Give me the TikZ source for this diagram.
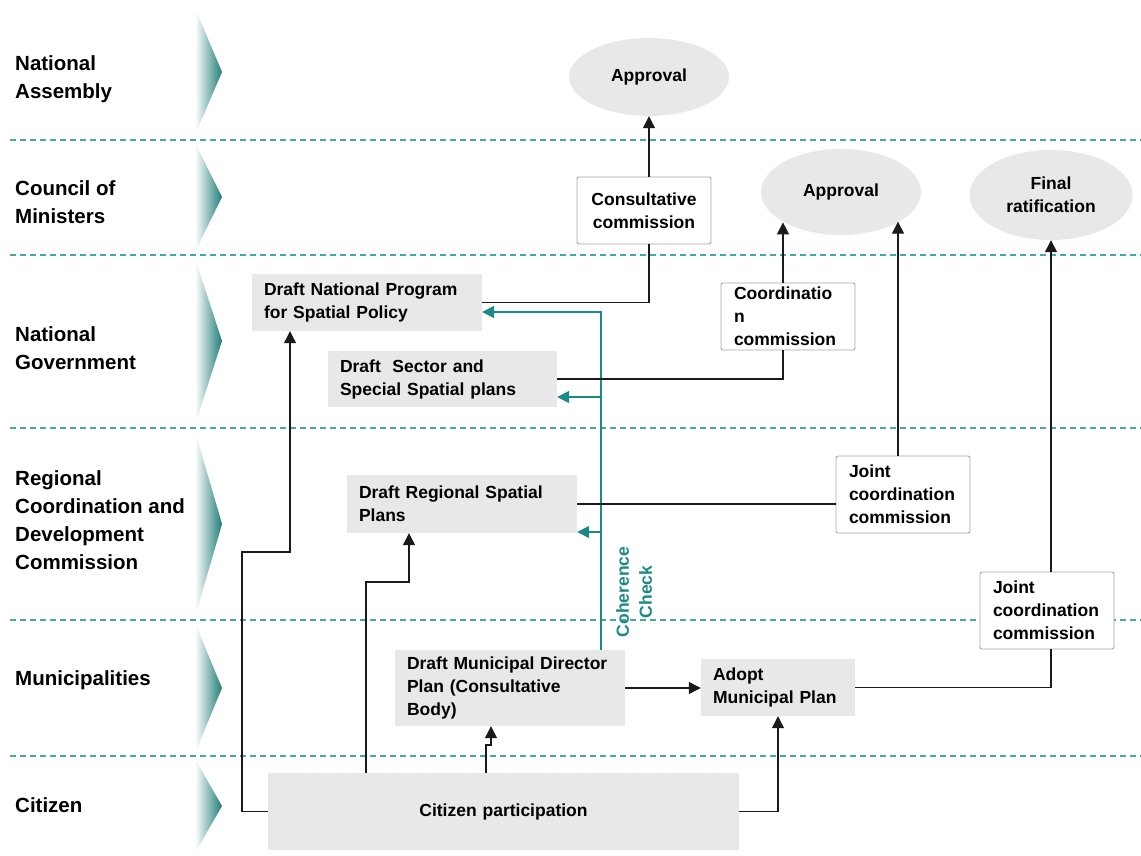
\documentclass[tikz,border=0pt]{standalone}
\usepackage{fontspec}
\setmainfont{Liberation Sans}
\usetikzlibrary{arrows.meta,shapes.geometric,calc}
\definecolor{boxgray}{HTML}{E8E8E8}
\definecolor{dashteal}{HTML}{45A8A8}
\definecolor{tealc}{HTML}{1A8A85}
\definecolor{chev}{HTML}{1F7D78}
\definecolor{linec}{HTML}{1A1A1A}
\definecolor{bordergray}{HTML}{A6A6A6}
\newcommand{\boxfont}{\fontsize{17.5}{23}\selectfont\bfseries}
\newcommand{\lanefont}{\fontsize{20.5}{27.8}\selectfont\bfseries}
\begin{document}
\begin{tikzpicture}[x=1pt,y=-1pt,
  lane/.style={anchor=west, align=left, font=\lanefont, inner sep=0pt},
  gbox/.style={fill=boxgray, inner xsep=12pt, inner ysep=2pt, align=left, font=\boxfont},
  cbox/.style={fill=white, draw=bordergray, line width=0.9pt, rounded corners=2pt, inner xsep=13pt, inner ysep=2pt, align=left, font=\boxfont},
  oval/.style={ellipse, fill=boxgray, inner sep=0pt, align=center, font=\boxfont},
  conn/.style={draw=linec, line width=1.2pt},
  arr/.style={conn, -{Triangle[length=12pt,width=12pt]}},
  tarr/.style={draw=tealc, line width=1.4pt, -{Triangle[length=12pt,width=12pt]}},
  sep/.style={draw=dashteal, line width=1.5pt, dash pattern=on 6pt off 4pt},
  chevron/.style={left color=white, right color=chev, draw=none}]

\useasboundingbox (0,0) rectangle (1141,856);

% lane separators
\foreach \yy in {140,255,428,620,756} {\draw[sep] (10,\yy) -- (1141,\yy);}

% chevrons
\shade[chevron] (195,8) -- (222,72) -- (195,135) -- cycle;
\shade[chevron] (195,143) -- (222,197) -- (195,252) -- cycle;
\shade[chevron] (195,258) -- (222,341) -- (195,425) -- cycle;
\shade[chevron] (195,431) -- (222,524) -- (195,617) -- cycle;
\shade[chevron] (195,623) -- (222,688) -- (195,753) -- cycle;
\shade[chevron] (195,759) -- (222,806) -- (195,853) -- cycle;

% lane labels
\node[lane] (l1) at (15,79) {National\\Assembly};
\node[lane] (l2) at (15,202) {Council of\\Ministers};
\node[lane] (l3) at (15,348) {National\\Government};
\node[lane] (l4) at (15,520) {Regional\\Coordination and\\Development\\Commission};
\node[lane] (l5) at (15,680) {Municipalities};
\node[lane] (l6) at (15,805) {Citizen};

% ovals
\node[oval, minimum width=160pt, minimum height=78pt] (ap1) at (649,77) {Approval};
\node[oval, minimum width=160pt, minimum height=86pt] (ap2) at (841,192) {Approval};
\node[oval, minimum width=163pt, minimum height=90pt] (fr) at (1051,195) {Final\\ratification};

% commission boxes
\node[cbox, align=center, text width=108pt, minimum height=67pt] (cons) at (644,210.5) {Consultative\\commission};
\node[cbox, text width=108pt, minimum height=67pt] (coord) at (788,316.5) {Coordinatio\\n\\commission};
\node[cbox, text width=108pt, minimum height=77pt] (jc1) at (903,494.5) {Joint\\coordination\\commission};
\node[cbox, text width=108pt, minimum height=77pt] (jc2) at (1047,610.5) {Joint\\coordination\\commission};

% gray boxes
\node[gbox, text width=206pt, minimum height=57pt] (dnp) at (367,302.5) {Draft National Program\\for Spatial Policy};
\node[gbox, text width=205pt, minimum height=56pt] (dsp) at (442.5,379) {Draft\ \ Sector and\\Special Spatial plans};
\node[gbox, text width=206pt, minimum height=58pt] (drs) at (462,504) {Draft Regional Spatial\\Plans};
\node[gbox, text width=206pt, minimum height=76pt] (dmp) at (510,688) {Draft Municipal Director\\Plan (Consultative\\Body)};
\node[gbox, text width=130pt, minimum height=57pt] (adopt) at (778,687.5) {Adopt\\Municipal Plan};
\node[gbox, align=center, text width=447pt, minimum height=77pt] (cit) at (503.5,811.5) {Citizen participation};

% coherence check
\node[font=\boxfont, text=tealc, rotate=90, align=center, inner sep=0pt] (coh) at (634,592) {Coherence\\Check};
\coordinate (ch) at (601,312);
\coordinate (t1) at ([yshift=-9.5pt]dnp.east);
\coordinate (t2) at ([yshift=-18pt]dsp.east);
\coordinate (t3) at ([yshift=-28pt]drs.east);
\draw[tarr] (dmp.north -| ch) |- (t1);
\draw[tarr] (t2 -| ch) -- (t2);
\draw[tarr] (t3 -| ch) -- (t3);

% black connectors
\draw[conn] (dnp.east) -| (ap1.south |- cons.south);
\draw[arr] (ap1.south |- cons.north) -- (ap1.south);
\coordinate (c1) at ([xshift=-5pt]coord.north);
\draw[conn] (dsp.east) -| (c1 |- coord.south);
\draw[arr] (c1) -- (c1 |- ap2.-152.7);
\draw[conn] (drs.east) -- (drs.east -| jc1.west);
\coordinate (c2) at ([xshift=-5pt]jc1.north);
\draw[arr] (c2) -- (c2 |- ap2.-27.8);
\draw[arr] (fr.south |- jc2.north) -- (fr.south);
\draw[conn] (adopt.east) -| (fr.south |- jc2.south);
\draw[arr] (dmp.east) -- (dmp.east -| adopt.west);

% citizen connectors
\coordinate (k1) at (242,552);
\coordinate (k1b) at (290,552);
\draw[arr] (cit.west) -| (k1) -| (k1b |- dnp.south);
\coordinate (k2) at (366,582);
\coordinate (k2b) at (409,582);
\draw[arr] (k2 |- cit.north) -- (k2) -- (k2b) -- (k2b |- drs.south);
\coordinate (k3) at (486,745);
\coordinate (k3b) at (491,745);
\draw[arr] (k3 |- cit.north) -- (k3) -- (k3b) -- (k3b |- dmp.south);
\draw[arr] (cit.east) -| (adopt.south);
\end{tikzpicture}
\end{document}
